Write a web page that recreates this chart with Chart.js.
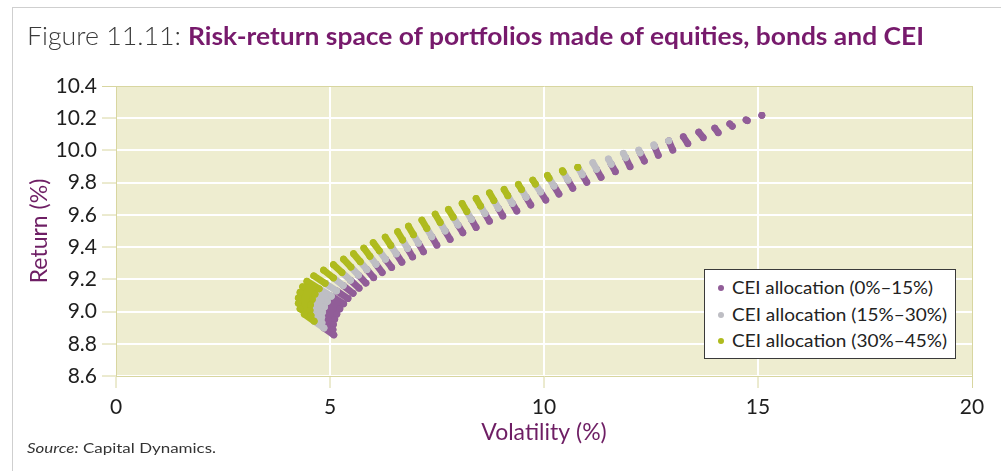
<!DOCTYPE html>
<html>
<head>
<meta charset="utf-8">
<script src="https://cdn.jsdelivr.net/npm/chart.js@4.4.1/dist/chart.umd.min.js"></script>
<style>
  html, body { margin: 0; padding: 0; background: #ffffff; }
  body { width: 1001px; height: 471px; position: relative; overflow: hidden; font-family: Lato, "Open Sans", sans-serif; }
  #frameTop { position: absolute; left: 12px; top: 7px; width: 1000px; height: 0; border-top: 1px solid #cfcfcf; }
  #frameLeft { position: absolute; left: 12px; top: 7px; width: 0; height: 470px; border-left: 1px solid #cfcfcf; }
  canvas { position: absolute; left: 0; top: 0; }
  .txt { position: absolute; white-space: nowrap; transform-origin: 0 50%; display: inline-block; }
  #figNum { left: 27px; top: 20px; font-size: 25px; line-height: 30px; color: #3a3a3a; font-weight: 300; }
  #figTitle { left: 188px; top: 20px; font-size: 25px; line-height: 30px; color: #771a6c; font-weight: 700; }
  #source { left: 27px; top: 439px; font-size: 14px; line-height: 17px; color: #333; }
  #legend { position: absolute; left: 704px; top: 269px; width: 250px; height: 88px; background: #fff; border: 1px solid #3a3a3a; }
  .lrow { position: absolute; left: 0; height: 27px; line-height: 27px; font-size: 17.5px; color: #222; white-space: nowrap; }
  .ldot { position: absolute; left: 13px; top: 11px; width: 6px; height: 6px; border-radius: 50%; }
  .ltext { position: absolute; left: 27px; top: 0; transform-origin: 0 50%; display: inline-block; }
</style>
</head>
<body>
<div id="frameTop"></div>
<div id="frameLeft"></div>
<canvas id="c" width="1001" height="471"></canvas>
<span id="figNum" class="txt">Figure 11.11:</span>
<span id="figTitle" class="txt">Risk-return space of portfolios made of equities, bonds and CEI</span>
<span id="source" class="txt"><i>Source:</i> Capital Dynamics.</span>
<div id="legend"></div>
<script>
// ---- Data (one row per equity/bond mix, CEI allocation rising along each stroke) ----
const seriesLabels = ['CEI allocation (0%\u201315%)', 'CEI allocation (15%\u201330%)', 'CEI allocation (30%\u201345%)'];
const seriesColors = ['#915d98', '#bebec4', '#afbb1e'];
const xTicks = [0, 5, 10, 15, 20];
const yTicks = [8.6, 8.8, 9.0, 9.2, 9.4, 9.6, 9.8, 10.0, 10.2, 10.4];

// CEI = 0% end of each stroke
const vol0 = [15.09, 14.75, 14.40, 14.07, 13.72, 13.36, 13.01, 12.67, 12.345, 12.01, 11.667, 11.334, 11.0, 10.673, 10.35, 10.042, 9.692, 9.365, 9.038, 8.725, 8.414, 8.104, 7.807, 7.497, 7.184, 6.93, 6.68, 6.44, 6.22, 6.02, 5.84, 5.68, 5.54, 5.42, 5.32, 5.23, 5.16, 5.11, 5.08, 5.07, 5.09];
const ret0 = [10.218, 10.185, 10.15, 10.11, 10.079, 10.042, 10.002, 9.97, 9.934, 9.899, 9.868, 9.833, 9.802, 9.765, 9.729, 9.692, 9.661, 9.624, 9.593, 9.561, 9.522, 9.489, 9.448, 9.412, 9.371, 9.339, 9.306, 9.274, 9.242, 9.21, 9.177, 9.145, 9.113, 9.081, 9.048, 9.016, 8.984, 8.952, 8.919, 8.887, 8.855];
// CEI = 15% point (null where the stroke stops earlier)
const vol15 = [null, null, null, null, null, null, 12.915, 12.58, 12.247, 11.907, 11.569, 11.228, 10.895, 10.561, 10.234, 9.92, 9.583, 9.26, 8.934, 8.621, 8.305, 7.992, 7.69, 7.38, 7.067, 6.813, 6.55, 6.297, 6.077, 5.863, 5.665, 5.48, 5.31, 5.153, 5.033, 4.94, 4.873, 4.827, 4.807, 4.813, 4.86];
const ret15 = [null, null, null, null, null, null, 10.06, 10.026, 9.985, 9.954, 9.915, 9.883, 9.849, 9.815, 9.779, 9.742, 9.709, 9.671, 9.641, 9.608, 9.572, 9.537, 9.50, 9.464, 9.424, 9.391, 9.358, 9.325, 9.293, 9.26, 9.226, 9.194, 9.161, 9.128, 9.095, 9.062, 9.029, 8.996, 8.963, 8.93, 8.898];
// CEI = 30% point
const vol30 = [null, null, null, null, null, null, null, null, null, null, null, null, 10.79, 10.449, 10.119, 9.799, 9.475, 9.155, 8.829, 8.518, 8.196, 7.879, 7.574, 7.263, 6.95, 6.697, 6.42, 6.153, 5.933, 5.707, 5.49, 5.28, 5.08, 4.887, 4.747, 4.65, 4.587, 4.543, 4.533, 4.557, 4.63];
const ret30 = [null, null, null, null, null, null, null, null, null, null, null, null, 9.895, 9.866, 9.828, 9.791, 9.757, 9.719, 9.689, 9.655, 9.621, 9.586, 9.553, 9.516, 9.477, 9.444, 9.41, 9.377, 9.343, 9.309, 9.276, 9.242, 9.209, 9.175, 9.141, 9.108, 9.075, 9.041, 9.007, 8.974, 8.94];
// highest CEI allocation reached by each stroke (up to 45%)
const volEnd = [15.09, 14.72, 14.34, 13.99, 13.615, 13.255, 12.915, 12.565, 12.215, 11.855, 11.504, 11.14, 10.79, 10.43, 10.08, 9.738, 9.402, 9.068, 8.725, 8.414, 8.087, 7.767, 7.457, 7.146, 6.833, 6.58, 6.29, 6.01, 5.79, 5.55, 5.315, 5.08, 4.85, 4.62, 4.46, 4.36, 4.30, 4.26, 4.26, 4.30, 4.40];
const retEnd = [10.218, 10.19, 10.165, 10.139, 10.114, 10.085, 10.06, 10.035, 10.002, 9.982, 9.947, 9.924, 9.895, 9.874, 9.845, 9.816, 9.789, 9.758, 9.737, 9.702, 9.671, 9.634, 9.605, 9.568, 9.53, 9.496, 9.462, 9.428, 9.394, 9.359, 9.325, 9.291, 9.257, 9.222, 9.188, 9.154, 9.12, 9.085, 9.051, 9.017, 8.983];

// ---- Build stroke segments per colour band ----
const bands = [[], [], []];
const gap = () => ({ x: null, y: null });
for (let i = 0; i < vol0.length; i++) {
  const p0 = { x: vol0[i], y: ret0[i] };
  const pEnd = { x: volEnd[i], y: retEnd[i] };
  const p15 = vol15[i] == null ? null : { x: vol15[i], y: ret15[i] };
  const p30 = vol30[i] == null ? null : { x: vol30[i], y: ret30[i] };
  bands[0].push(p0, p15 ? { ...p15 } : { ...pEnd }, gap());
  if (p15) bands[1].push({ ...p15 }, p30 ? { ...p30 } : { ...pEnd }, gap());
  if (p30) bands[2].push({ ...p30 }, { ...pEnd }, gap());
}

const TAN = '#d8d6a0';
const plotBg = {
  id: 'plotBg',
  beforeDraw(chart) {
    const { ctx, chartArea: a } = chart;
    ctx.save();
    ctx.fillStyle = '#eeedd0';
    ctx.fillRect(a.left, a.top, a.right - a.left, a.bottom - a.top);
    ctx.restore();
  }
};

Chart.defaults.font.family = 'Lato, "Open Sans", sans-serif';

const chart = new Chart(document.getElementById('c'), {
  type: 'scatter',
  data: {
    datasets: bands.map((pts, i) => ({
      label: seriesLabels[i],
      data: pts,
      showLine: true,
      spanGaps: false,
      borderColor: seriesColors[i],
      backgroundColor: seriesColors[i],
      borderWidth: 6.8,
      borderCapStyle: 'round',
      borderJoinStyle: 'round',
      pointRadius: 3.4,
      pointBorderWidth: 0,
      pointHoverRadius: 3.4,
      tension: 0,
      order: 3 - i
    }))
  },
  options: {
    responsive: false,
    animation: false,
    devicePixelRatio: 1,
    events: [],
    layout: { padding: { top: 86, right: 29, left: 0, bottom: 0 } },
    plugins: { legend: { display: false }, tooltip: { enabled: false }, title: { display: false } },
    scales: {
      x: {
        type: 'linear', min: xTicks[0], max: xTicks[xTicks.length - 1],
        afterBuildTicks: s => { s.ticks = xTicks.map(v => ({ value: v })); },
        afterFit: s => { s.height = 95; },
        ticks: { color: '#1e1e1e', font: { size: 21 }, padding: 7, maxRotation: 0, autoSkip: false },
        grid: {
          color: c => (c.index === xTicks.length - 1 ? TAN : '#ffffff'),
          lineWidth: c => (c.index === xTicks.length - 1 ? 1 : 2),
          tickColor: TAN, tickLength: 12, tickWidth: 1
        },
        border: { display: true, color: TAN, width: 1 },
        title: { display: true, text: 'Volatility (%)', color: '#6e1e64', font: { size: 23 }, padding: { top: 0, bottom: 25 } }
      },
      y: {
        type: 'linear', min: yTicks[0], max: yTicks[yTicks.length - 1],
        afterBuildTicks: s => { s.ticks = yTicks.map(v => ({ value: v })); },
        afterFit: s => { s.width = 116; },
        ticks: { color: '#1e1e1e', font: { size: 21 }, padding: 5, autoSkip: false, callback: v => Number(v).toFixed(1) },
        grid: {
          color: c => (c.index === yTicks.length - 1 ? TAN : '#ffffff'),
          lineWidth: c => (c.index === yTicks.length - 1 ? 1 : 2),
          tickColor: TAN, tickLength: 14, tickWidth: 1
        },
        border: { display: true, color: TAN, width: 1 },
        title: { display: true, text: 'Return (%)', color: '#6e1e64', font: { size: 23 }, padding: { top: 26, bottom: 0 } }
      }
    }
  },
  plugins: [plotBg]
});

// ---- HTML legend from the chart's datasets ----
const legend = document.getElementById('legend');
const rowTops = [4, 30.5, 57];
const rowWidths = [201, 215, 215];
chart.data.datasets.forEach((ds, i) => {
  const row = document.createElement('div');
  row.className = 'lrow';
  row.style.top = rowTops[i] + 'px';
  const dot = document.createElement('span');
  dot.className = 'ldot';
  dot.style.background = ds.backgroundColor;
  const t = document.createElement('span');
  t.className = 'ltext';
  t.textContent = ds.label;
  row.appendChild(dot); row.appendChild(t);
  legend.appendChild(row);
  const w = t.getBoundingClientRect().width;
  t.style.transform = 'scaleX(' + (rowWidths[i] / w) + ')';
});

function fit(id, target) {
  const el = document.getElementById(id);
  const w = el.getBoundingClientRect().width;
  el.style.transform = 'scaleX(' + (target / w) + ')';
}
fit('figNum', 154);
fit('figTitle', 736);
fit('source', 189);
</script>
</body>
</html>
